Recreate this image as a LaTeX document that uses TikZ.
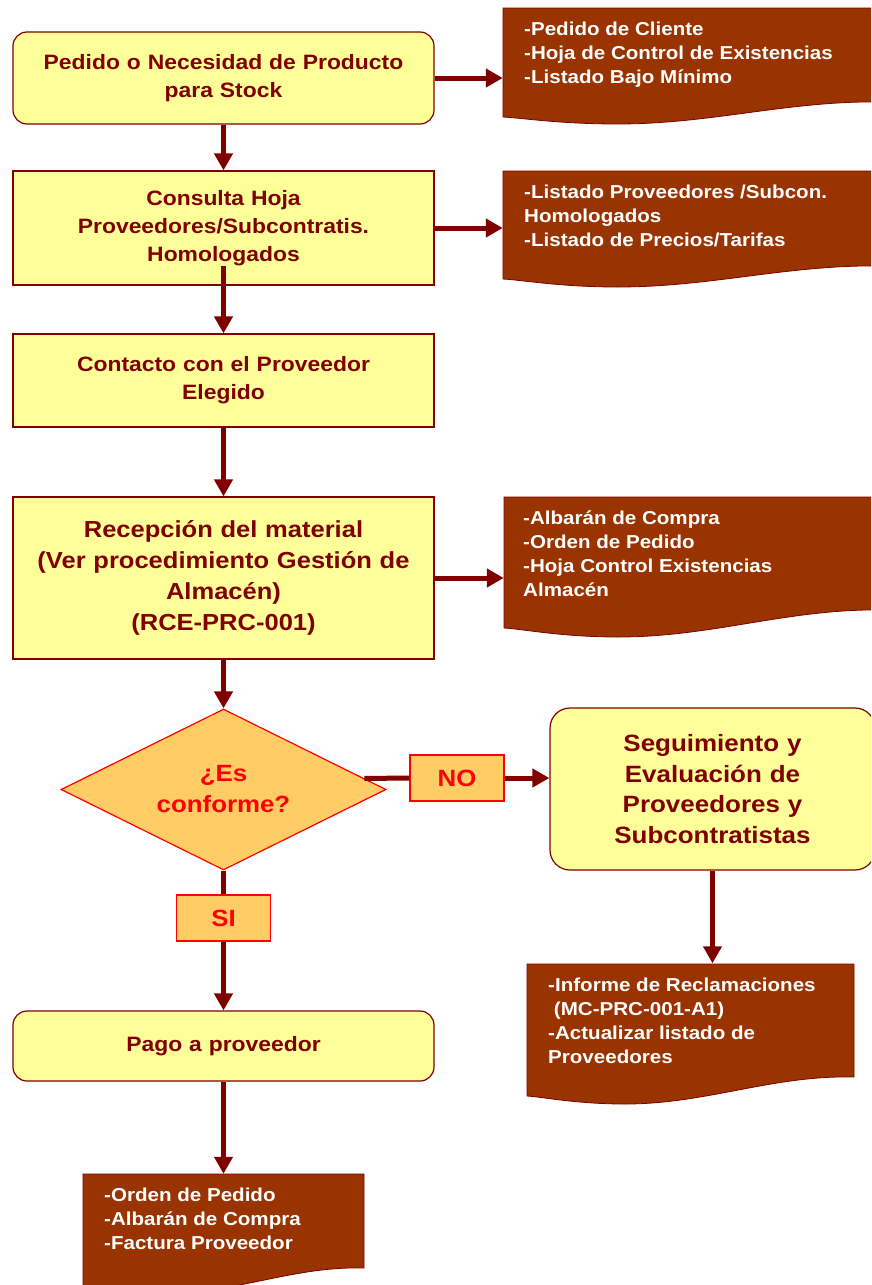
\documentclass[tikz,border=0pt]{standalone}
\usepackage{fontspec}
\setmainfont{Liberation Sans}[FakeStretch=1.1]
\usetikzlibrary{shapes.geometric,arrows.meta,calc}
\definecolor{boxfill}{HTML}{FFFF99}
\definecolor{maroon}{HTML}{800000}
\definecolor{docfill}{HTML}{993300}
\definecolor{decfill}{HTML}{FFCC66}
\definecolor{decred}{HTML}{FF0000}

% document symbol: rectangle with a wavy lower edge
% #1 left, #2 top, #3 right, #4 lower-left y, #5 lowest y, #6 lower-right y
\newcommand\docshape[6]{%
  \filldraw[fill=docfill,draw=maroon,line width=0.8pt]
    (#1,#2) -- (#3,#2) -- (#3,#6)
    .. controls ({#3-0.25*(#3-#1)},{#6-2}) and ({#1+0.55*(#3-#1)},#5) .. ({#1+0.3*(#3-#1)},#5)
    .. controls ({#1+0.15*(#3-#1)},#5) and ({#1+0.05*(#3-#1)},{#4+1}) .. (#1,#4) -- cycle;}

\begin{document}
\begin{tikzpicture}[x=1pt,y=-1pt,
  stepbox/.style={draw=maroon,line width=1.2pt,fill=boxfill,minimum width=421pt,
    text width=410pt,align=center,text=maroon,inner sep=0pt,
    font=\fontsize{20.8}{27.8}\selectfont\bfseries},
  roundbox/.style={stepbox,rounded corners=14pt},
  bigtext/.style={font=\fontsize{23.2}{31}\selectfont\bfseries},
  flow/.style={draw=maroon,line width=5pt,-{Triangle[length=17pt,width=18pt]}},
  flowline/.style={draw=maroon,line width=5pt},
  tagbox/.style={draw=decred,line width=1.2pt,fill=decfill,text=decred,
    font=\fontsize{23.5}{28}\selectfont\bfseries,minimum width=94pt,minimum height=46pt,inner sep=0pt},
  docarea/.style={rectangle,inner sep=0pt},
  doctext/.style={anchor=north west,align=left,text=white,inner sep=0pt,
    font=\fontsize{18.7}{23.8}\selectfont\bfseries}]

\useasboundingbox (0,0) rectangle (871,1285);
\clip (0,0) rectangle (871,1285);

% document symbols
\docshape{503}{8}{885}{117}{124}{102}
\docshape{503}{171}{885}{279}{287}{266}
\docshape{504}{497}{885}{628}{637}{610}
\docshape{527}{964}{854}{1096}{1104}{1077}
\docshape{83}{1174}{364}{1286}{1293}{1268}

\node[docarea,minimum width=368pt,minimum height=110pt] (d1) at (687,63) {};
\node[docarea,minimum width=368pt,minimum height=110pt] (d2) at (687,226) {};
\node[docarea,minimum width=367pt,minimum height=130pt] (d3) at (687.5,562) {};
\node[docarea,minimum width=327pt,minimum height=135pt] (d4) at (690.5,1031) {};
\node[docarea,minimum width=281pt,minimum height=110pt] (d5) at (223.5,1229) {};

\node[doctext] (t1) at (524,22) {-Pedido de Cliente\\-Hoja de Control de Existencias\\-Listado Bajo Mínimo};
\node[doctext] (t2) at (524,185) {-Listado Proveedores /Subcon.\\Homologados\\-Listado de Precios/Tarifas};
\node[doctext] (t3) at (523,511) {-Albarán de Compra\\-Orden de Pedido\\-Hoja Control Existencias\\Almacén};
\node[doctext] (t4) at (548,978) {-Informe de Reclamaciones\\\ (MC-PRC-001-A1)\\-Actualizar listado de\\Proveedores};
\node[doctext] (t5) at (104,1188) {-Orden de Pedido\\-Albarán de Compra\\-Factura Proveedor};

% process steps
\node[roundbox,minimum height=92pt] (b1) at (223.5,78) {Pedido o Necesidad de Producto\\para Stock};
\node[stepbox,minimum height=114pt] (b2) at (223.5,228) {Consulta Hoja\\Proveedores/Subcontratis.\\Homologados};
\node[stepbox,minimum height=93pt] (b3) at (223.5,380.5) {Contacto con el Proveedor\\Elegido};
\node[stepbox,bigtext,minimum height=162pt] (b4) at (223.5,578) {Recepción del material\\(Ver procedimiento Gestión de\\Almacén)\\(RCE-PRC-001)};
\node[diamond,aspect=2,draw=decred,line width=1.2pt,fill=decfill,text=decred,inner sep=0pt,
  minimum width=325pt,minimum height=161pt,align=center,
  font=\fontsize{23.5}{31}\selectfont\bfseries] (dec) at (223.5,789.5) {¿Es\\conforme?};
\node[tagbox] (no) at (457,778) {NO};
\node[roundbox,minimum width=325pt,text width=310pt,minimum height=162pt,
  rounded corners=20pt,font=\fontsize{23.6}{30.5}\selectfont\bfseries] (seg) at (712.5,789)
  {Seguimiento y\\Evaluación de\\Proveedores y\\Subcontratistas};
\node[tagbox] (si) at (223.5,918) {SI};
\node[roundbox,minimum height=70pt] (b5) at (223.5,1046) {Pago a proveedor};

% connectors
\draw[flow] (b1.east) -- (b1.east -| d1.west);
\draw[flow] (b2.east) -- (b2.east -| d2.west);
\draw[flow] (b4.east) -- (b4.east -| d3.west);
\draw[flow] (b1.south) -- (b2.north);
\draw[flow] ($(b2.south)+(0,-20)$) -- (b3.north);
\draw[flow] (b3.south) -- (b4.north);
\draw[flow] (b4.south) -- (dec.north);
\draw[flowline] ($(dec.east)!0.136!(dec.north)$) -- (no.west);
\draw[flow] (no.east) -- (no.east -| seg.west);
\draw[flowline] (dec.south) -- (si.north);
\draw[flow] (si.south) -- (b5.north);
\draw[flow] (b5.south) -- (b5.south |- d5.north);
\draw[flow] (seg.south) -- (seg.south |- d4.north);
\end{tikzpicture}
\end{document}
